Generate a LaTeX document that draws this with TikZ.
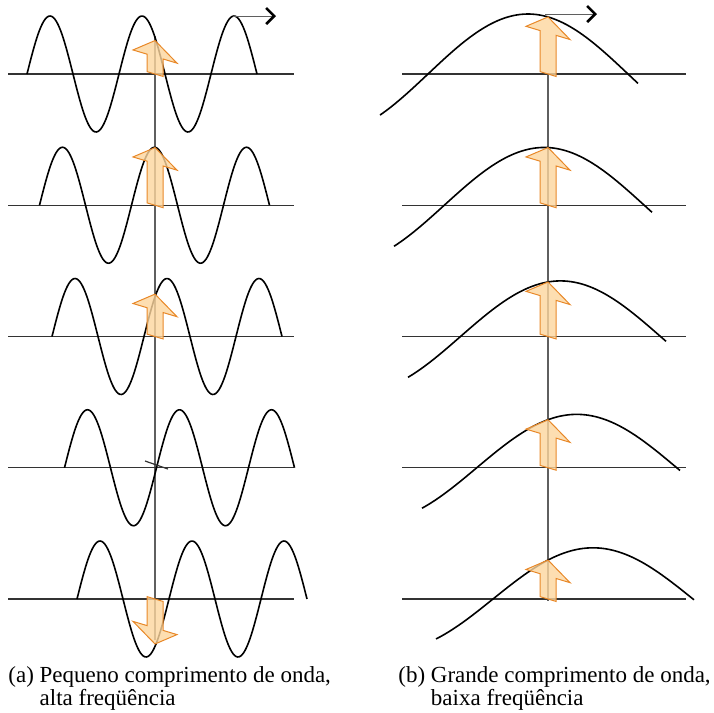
\documentclass[tikz,border=0pt]{standalone}
\usepackage{fontspec}
\setmainfont{Liberation Serif}
\usetikzlibrary{arrows.meta}
\definecolor{cOrange}{RGB}{232,136,40}
\definecolor{cPeach}{RGB}{253,214,158}
\definecolor{cAxis}{RGB}{51,51,51}
\definecolor{cGuide}{RGB}{95,95,95}
\tikzset{
	wave/.style     ={line width=0.8pt, black, smooth},
	axisline/.style ={line width=0.65pt, cAxis},
	guide/.style    ={line width=0.7pt, cGuide},
	fieldarrow/.style={draw=cOrange, fill=cPeach, fill opacity=0.8, line width=0.5pt, line join=miter},
	travel/.style   ={line width=0.5pt, cGuide, -{Straight Barb[length=4pt, width=8pt, line width=1.3pt, black]}},
	caption/.style  ={anchor=base west, align=left, inner sep=0pt},
}
% field arrow: #1 = x, #2 = axis y, #3 = length (up is positive)
\newcommand{\fieldarrow}[3]{%
	\pgfmathsetmacro{\headlen}{(#3)>0 ? 16 : -16}
	\begin{scope}[shift={(#1,#2)}, yslant=-0.3]
		\path[fieldarrow] (-8,0) -- (-8,{-(#3)+\headlen}) -- (-22,{-(#3)+\headlen}) -- (0,{-(#3)})
			-- (22,{-(#3)+\headlen}) -- (8,{-(#3)+\headlen}) -- (8,0) -- cycle;
	\end{scope}}

\begin{document}
\begin{tikzpicture}[x=0.5pt, y=-0.5pt, font=\fontsize{11.5}{11.5}\selectfont]
	\useasboundingbox (0,0) rectangle (714,713);
	\draw[guide] (155,36) -- (155,640);
	\draw[guide] (548,74) -- (548,601);
	\foreach \r in {0,...,4}{
		\pgfmathsetmacro{\ya}{74+131.25*\r}
		% (a) short wavelength
		\pgfmathsetmacro{\sa}{27+12.5*\r}
		\pgfmathsetmacro{\ea}{\sa+230}
		\draw[axisline] (8,\ya) -- (294,\ya);
		\draw[wave] plot[domain=\sa:\ea, samples=150] (\x, {\ya-58*sin((\x-\sa)/92*360)});
		% (b) long wavelength
		\pgfmathsetmacro{\ca}{428+16.25*\r}
		\pgfmathsetmacro{\amp}{60-2.2*\r}
		\pgfmathsetmacro{\sb}{380+14*\r}
		\pgfmathsetmacro{\eb}{638+14*\r}
		\draw[axisline] (402,\ya) -- (686,\ya);
		\draw[wave] plot[domain=\sb:\eb, samples=80] (\x, {\ya-\amp*sin((\x-\ca)/400*360)});
		\pgfmathsetmacro{\lb}{\amp*sin((548-\ca)/400*360)}
		\fieldarrow{548}{\ya}{\lb}
	}
	\foreach \r in {0,1,2,4}{
		\pgfmathsetmacro{\ya}{74+131.25*\r}
		\pgfmathsetmacro{\la}{58*sin((129-12.5*\r)/92*360)}
		\fieldarrow{155}{\ya}{\la}
	}
	\draw[line width=0.6pt, cAxis] (145,461) -- (168,469);

	\coordinate (crestA) at (233,16);
	\coordinate (crestB) at (545,14);
	\draw[travel] (crestA) -- ++(43,0);
	\draw[travel] (crestB) -- ++(52,0);

	\node[caption] (capA) at (8,705) {(a) Pequeno comprimento de onda,\\\hphantom{(a) }alta freqüência};
	\node[caption] (capB) at (398,705) {(b) Grande comprimento de onda,\\\hphantom{(b) }baixa freqüência};
\end{tikzpicture}
\end{document}
